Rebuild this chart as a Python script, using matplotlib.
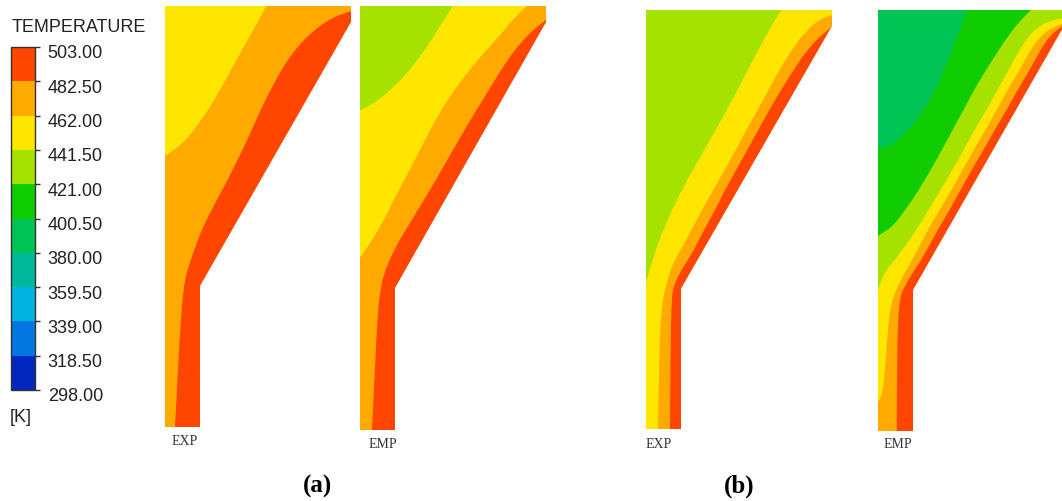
import matplotlib
matplotlib.use("Agg")
import matplotlib.pyplot as plt
import matplotlib.colorbar as mcolorbar
import matplotlib.transforms as mtrans
from matplotlib.colors import ListedColormap, BoundaryNorm
from matplotlib.patches import Polygon, PathPatch
from matplotlib.path import Path
import numpy as np

# ---------------- data ----------------
levels = [298.0, 318.5, 339.0, 359.5, 380.0, 400.5, 421.0, 441.5, 462.0, 482.5, 503.0]
band_colors = ["#0028c0", "#0078e0", "#00b4e2", "#00b89a", "#00c355",
               "#0fcc00", "#a6e200", "#ffe600", "#ffaa00", "#ff4600"]

# nozzle domain outline (mm)
nozzle_x = [0.0, 3.5, 3.5, 18.6, 18.6, 0.0]
nozzle_z = [0.0, 0.0, 14.1, 40.5, 42.1, 42.1]
dom_w, dom_h = 18.6, 42.1

case_names = ["EXP", "EMP", "EXP", "EMP"]
group_labels = ["(a)", "(b)"]

# isotherm lines, (x, z) in mm
a_exp_482 = [(1.0, 0.0), (1.3, 6.0), (1.6, 11.0), (1.8, 13.3), (2.05, 15.0), (2.5, 16.5),
             (3.1, 18.2), (3.8, 20.0), (4.8, 22.0), (5.9, 24.0), (6.9, 26.0), (7.9, 28.0),
             (8.8, 30.0), (9.7, 32.0), (10.7, 34.0), (11.8, 36.0), (13.2, 38.0),
             (14.8, 39.6), (16.6, 40.9), (18.6, 41.6)]
a_exp_462 = [(0.0, 27.1), (0.8, 27.6), (2.2, 28.8), (3.5, 30.5), (5.2, 33.1), (6.8, 36.1),
             (8.5, 39.1), (10.2, 42.2)]

a_emp_482 = [(1.2, 0.0), (1.5, 6.4), (1.8, 12.0), (2.0, 13.6), (2.3, 15.2), (2.9, 16.8),
             (3.8, 18.6), (4.9, 20.4), (6.0, 22.2), (7.1, 24.0), (8.2, 25.9), (9.3, 27.8),
             (10.4, 29.7), (11.6, 31.7), (12.9, 33.8), (14.5, 36.4), (16.0, 38.4),
             (17.5, 39.9), (18.6, 40.7)]
a_emp_462 = [(0.0, 17.1), (0.7, 18.1), (2.0, 20.1), (3.3, 22.7), (4.9, 25.7), (6.5, 28.8),
             (8.0, 31.6), (9.6, 34.0), (11.3, 36.2), (13.0, 38.1), (14.5, 39.8),
             (15.7, 41.2), (16.8, 42.2)]
a_emp_441 = [(0.0, 31.7), (1.0, 32.2), (2.0, 32.9), (3.2, 33.9), (4.4, 35.1), (5.5, 36.4),
             (6.6, 37.9), (7.7, 39.6), (8.7, 41.2), (9.4, 42.2)]

b_exp_482 = [(2.4, 0.0), (2.45, 8.0), (2.55, 13.0), (2.75, 14.3), (3.3, 15.6), (4.2, 17.0),
             (5.0, 18.4), (5.8, 20.0), (6.9, 22.0), (7.9, 24.0), (9.0, 26.0), (10.1, 28.0),
             (11.2, 30.0), (12.3, 32.0), (13.4, 33.9), (14.35, 35.4), (15.1, 36.6),
             (15.85, 37.7), (16.7, 38.7), (17.35, 39.4), (18.0, 39.9), (18.6, 40.5)]
b_exp_462 = [(1.2, 0.0), (1.3, 8.0), (1.6, 12.5), (1.9, 14.0), (2.35, 15.7), (2.9, 17.0),
             (3.8, 18.6), (4.7, 20.3), (5.7, 22.2), (7.0, 24.5), (8.4, 27.0), (9.5, 29.0),
             (10.5, 30.9), (11.7, 33.0), (13.0, 35.5), (14.5, 38.0), (16.0, 40.0),
             (17.4, 41.2), (18.6, 41.6)]
b_exp_441 = [(0.0, 14.7), (0.6, 16.9), (1.7, 20.0), (3.4, 23.7), (5.4, 27.3), (7.7, 31.3),
             (9.9, 35.5), (11.9, 39.4), (13.6, 42.2)]

b_emp_482 = [(1.87, 0.0), (1.9, 6.0), (1.97, 10.5), (2.2, 13.5), (2.7, 14.5), (3.5, 15.9),
             (4.4, 17.2), (5.9, 20.0), (7.1, 22.0), (8.2, 24.0), (9.3, 26.0), (10.5, 28.0),
             (11.6, 30.0), (12.8, 32.0), (13.9, 34.0), (15.1, 36.0), (16.2, 38.0),
             (16.8, 39.0), (17.5, 39.8), (18.2, 40.3), (18.6, 40.6)]
b_emp_462 = [(0.0, 2.9), (0.3, 3.3), (0.55, 4.5), (0.8, 7.2), (1.0, 10.5), (1.35, 12.9),
             (1.85, 14.2), (2.7, 15.9), (3.5, 17.2), (4.9, 20.0), (6.1, 22.0), (7.3, 24.0),
             (8.4, 26.0), (9.5, 28.0), (10.7, 30.0), (11.8, 32.0), (12.9, 34.0), (14.1, 36.0),
             (15.2, 38.0), (16.0, 39.2), (16.9, 40.0), (17.8, 40.5), (18.6, 40.8)]
b_emp_441 = [(0.0, 14.2), (0.3, 14.9), (0.7, 15.9), (1.5, 16.9), (2.5, 18.2), (3.8, 20.0),
             (5.0, 22.0), (6.2, 24.0), (7.4, 26.0), (8.5, 28.0), (9.6, 30.0), (10.8, 32.0),
             (11.9, 34.0), (13.0, 36.0), (14.1, 38.0), (15.0, 39.4), (16.0, 40.4),
             (17.2, 41.0), (18.6, 41.3)]
b_emp_421 = [(0.0, 19.5), (0.6, 19.9), (1.5, 20.5), (2.5, 21.8), (3.5, 23.2), (4.5, 24.8),
             (5.5, 26.5), (6.5, 28.3), (7.5, 30.2), (8.5, 32.0), (9.5, 33.9), (10.5, 35.6),
             (11.5, 37.2), (12.8, 39.2), (14.0, 40.8), (15.4, 42.2)]
b_emp_400 = [(0.0, 28.2), (0.9, 28.4), (1.8, 28.9), (3.8, 30.9), (5.5, 33.5), (6.8, 36.5),
             (7.8, 39.2), (8.9, 42.2)]

cases = [
    [(482.5, a_exp_482), (462.0, a_exp_462)],
    [(482.5, a_emp_482), (462.0, a_emp_462), (441.5, a_emp_441)],
    [(482.5, b_exp_482), (462.0, b_exp_462), (441.5, b_exp_441)],
    [(482.5, b_emp_482), (462.0, b_emp_462), (441.5, b_emp_441),
     (421.0, b_emp_421), (400.5, b_emp_400)],
]

# ---------------- layout (pixels) ----------------
W, H = 1062, 502
fig = plt.figure(figsize=(W / 100, H / 100), dpi=100)
fig.patch.set_facecolor("white")

def px_axes(l, t, r, b):
    return fig.add_axes([l / W, 1 - b / H, (r - l) / W, (b - t) / H])

panel_boxes = [(165, 7, 351, 428), (360, 7, 546, 431), (646, 11, 832, 430), (878, 11, 1064, 432)]
name_pos = [(185, 442), (383, 445), (659, 445), (898, 445)]
group_pos = [(318, 486), (739, 486)]

def band_color_below(level):
    return band_colors[levels.index(level) - 1]

def cool_side_path(pts):
    """Smooth (quadratic B-spline) isotherm, closed round its cooler side."""
    pts = np.asarray(pts, dtype=float)
    verts = [pts[0]]
    codes = [Path.MOVETO]
    for i in range(1, len(pts) - 1):
        verts += [pts[i], (pts[i] + pts[i + 1]) / 2]
        codes += [Path.CURVE3, Path.CURVE3]
    verts.append(pts[-1])
    codes.append(Path.LINETO)
    x0, z0 = pts[0]
    x1, z1 = pts[-1]
    for c in [(x1, dom_h + 5), (-5, dom_h + 5), (-5, z0 - 5), (x0, z0 - 5)]:
        verts.append(c)
        codes.append(Path.LINETO)
    verts.append(pts[0])
    codes.append(Path.CLOSEPOLY)
    return Path(np.array(verts), codes)

for box, iso, name, npos in zip(panel_boxes, cases, case_names, name_pos):
    ax = px_axes(*box)
    ax.set_xlim(0, dom_w)
    ax.set_ylim(0, dom_h)
    ax.axis("off")
    dom = Polygon(np.column_stack([nozzle_x, nozzle_z]), closed=True,
                  facecolor=band_colors[-1], edgecolor="none")
    ax.add_patch(dom)
    for level, pts in iso:
        patch = PathPatch(cool_side_path(pts), facecolor=band_color_below(level),
                          edgecolor="none")
        ax.add_patch(patch)
        patch.set_clip_path(dom)
    fig.text(npos[0] / W, 1 - npos[1] / H, name, ha="center", va="center",
             fontsize=10, family="Liberation Serif", color="#333333")

for lab, gp in zip(group_labels, group_pos):
    fig.text(gp[0] / W, 1 - gp[1] / H, lab, ha="center", va="center",
             fontsize=18, family="Liberation Serif", fontweight="bold", color="black")

# ---------------- colour bar ----------------
cax = px_axes(11, 48, 35, 391)
cb = mcolorbar.ColorbarBase(cax, cmap=ListedColormap(band_colors),
                            norm=BoundaryNorm(levels, len(band_colors)),
                            boundaries=levels, ticks=levels, spacing="uniform",
                            orientation="vertical")
cb.set_ticklabels([f"{v:.2f}" for v in levels])
cb.outline.set_edgecolor("#333333")
cb.outline.set_linewidth(1.0)
cax.tick_params(axis="y", direction="out", length=3.6, width=1.0, pad=5.5,
                labelsize=13, colors="#333333")
off = mtrans.ScaledTranslation(0, -4 / 100, fig.dpi_scale_trans)
for lbl in cax.get_yticklabels():
    lbl.set_family("Liberation Sans")
    lbl.set_color("#222222")
    lbl.set_transform(lbl.get_transform() + off)

fig.text(12 / W, 1 - 27 / H, "TEMPERATURE", ha="left", va="center",
         fontsize=13, family="Liberation Sans", color="#222222")
fig.text(10 / W, 1 - 417 / H, "[K]", ha="left", va="center",
         fontsize=13, family="Liberation Sans", color="#222222")

fig.savefig("out.png", dpi=100, facecolor="white")
